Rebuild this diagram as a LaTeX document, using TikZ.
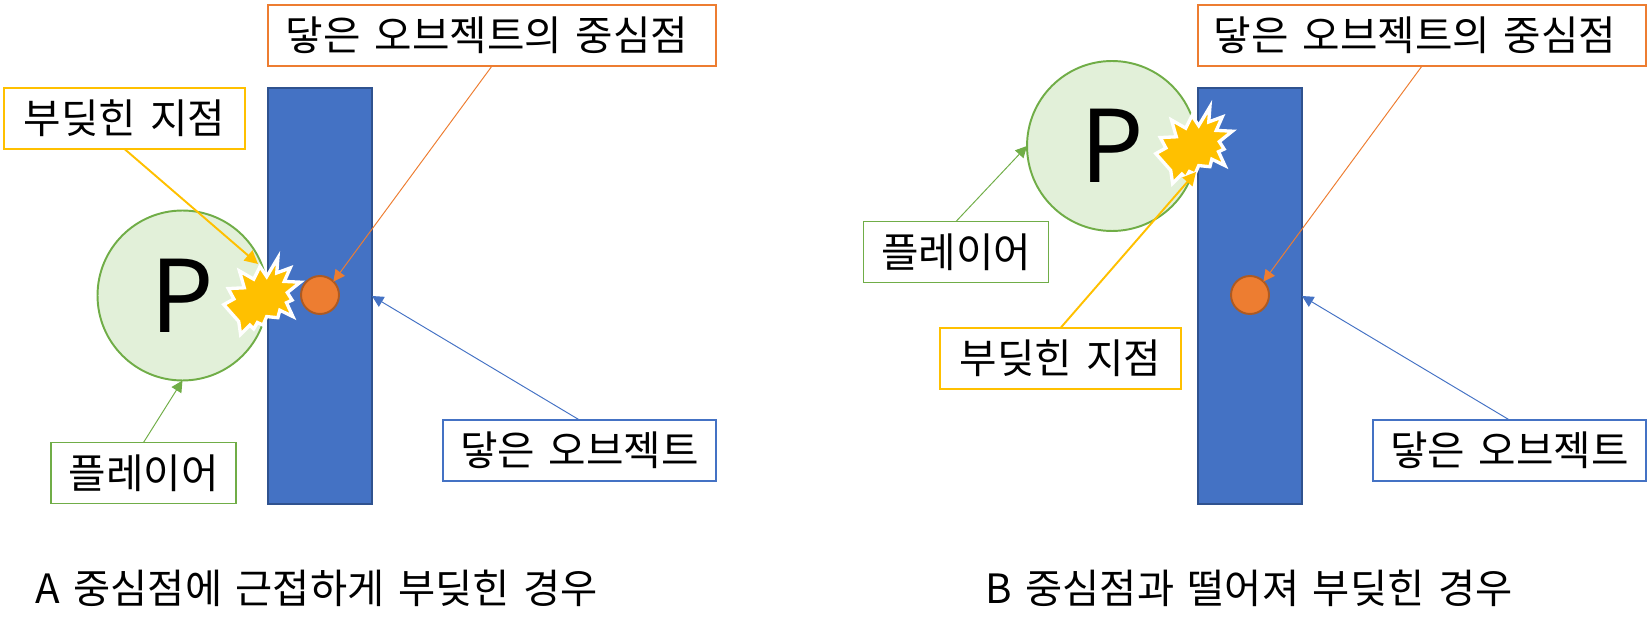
\documentclass[tikz,border=0pt]{standalone}
\usepackage{fontspec}
\setmainfont[WordSpace=1.5]{Noto Sans CJK KR}
\usetikzlibrary{arrows.meta}
\definecolor{wallblue}{HTML}{4472C4}
\definecolor{wallline}{HTML}{2F528F}
\definecolor{hitorange}{HTML}{ED7D31}
\definecolor{dotline}{HTML}{AE5A21}
\definecolor{playergreen}{HTML}{70AD47}
\definecolor{playerfill}{HTML}{E2F0D9}
\definecolor{hitgold}{HTML}{FFC000}

\begin{document}
\begin{tikzpicture}[x=0.02cm, y=-0.02cm, >={Triangle[length=6.5pt, width=6.5pt]},
  lbl/.style={draw, fill=white, line width=1.1pt, font=\fontsize{23.2}{27}\selectfont, minimum height=1.22cm, inner sep=0pt, outer sep=0pt},
  wall/.style={draw=wallline, fill=wallblue, line width=1.1pt, minimum width=2.08cm, minimum height=8.32cm, inner sep=0pt, outer sep=0pt},
  player/.style={circle, draw=playergreen, fill=playerfill, line width=1.1pt, minimum size=3.4cm, inner sep=0pt, outer sep=0pt, font=\fontsize{57}{60}\selectfont},
  dot/.style={circle, draw=dotline, fill=hitorange, line width=1.1pt, minimum size=0.76cm, inner sep=0pt, outer sep=0pt},
  caption/.style={anchor=west, inner sep=0pt, font=\fontsize{23}{27}\selectfont},
  thinlink/.style={->, line width=0.55pt},
  hitlink/.style={-{Triangle[length=7.5pt, width=7.5pt]}, hitgold, line width=1.1pt},
  collision/.pic={
    \draw[white, fill=hitgold, line width=1.9pt, miter limit=6] (-2.7,-29) -- (3.3,-20) -- (13.3,-36.7) -- (12.3,-23.3)
      -- (24.3,-27.7) -- (19,-15.7) -- (33.3,-15) -- (21.7,-5.7) -- (26,1) -- (21,3.3) -- (26.7,15.7) -- (15,10)
      -- (13.3,16.7) -- (3.3,15.7) -- (0,23.3) -- (-5,21) -- (-8.3,26.7) -- (-11.7,23.3) -- (-20,31.7) -- (-21.7,20)
      -- (-35,5) -- (-26,0) -- (-31,-9.3) -- (-16.7,-10) -- (-21,-25) -- (-8.3,-17.7) -- cycle;
  }]

  \useasboundingbox (0,0) rectangle (1652,634);

  % Case A
  \node[player] (playerA) at (182.5,295.5) {P};
  \node[wall] (wallA) at (320,296) {};
  \node[dot] (dotA) at (320,295) {};
  \pic[scale=1.12] at (263,299) {collision};
  \coordinate (hitA) at (258,264);

  \node[lbl, draw=hitorange, minimum width=8.96cm] (centerA) at (492,35.5) {닿은 오브젝트의 중심점\kern0.2cm};
  \node[lbl, draw=hitgold, minimum width=4.82cm] (pointA) at (124.5,118.5) {부딪힌 지점};
  \node[lbl, draw=playergreen, minimum width=3.7cm] (nameA) at (143.5,473) {플레이어};
  \node[lbl, draw=wallblue, minimum width=5.46cm] (objA) at (579.5,450.5) {닿은 오브젝트};
  \node[caption] (capA) at (35,588) {A 중심점에 근접하게 부딪힌 경우};

  \draw[hitlink] (pointA.south) -- (hitA);
  \draw[thinlink, hitorange] (centerA.south) -- (dotA.45);
  \draw[thinlink, playergreen] (nameA.north) -- (playerA.south);
  \draw[thinlink, wallblue] (objA.north) -- (wallA.east);

  % Case B
  \node[player] (playerB) at (1112,146) {P};
  \node[wall] (wallB) at (1250,296) {};
  \node[dot] (dotB) at (1250,295) {};
  \pic[scale=1.12] at (1195,148) {collision};
  \coordinate (hitB) at (1196,172);

  \node[lbl, draw=hitorange, minimum width=8.96cm] (centerB) at (1422,35.5) {닿은 오브젝트의 중심점\kern0.28cm};
  \node[lbl, draw=hitgold, minimum width=4.82cm] (pointB) at (1060.5,358.5) {부딪힌 지점};
  \node[lbl, draw=playergreen, minimum width=3.7cm] (nameB) at (956,252) {플레이어};
  \node[lbl, draw=wallblue, minimum width=5.46cm] (objB) at (1509.5,450.5) {닿은 오브젝트};
  \node[caption] (capB) at (985,588) {B 중심점과 떨어져 부딪힌 경우};

  \draw[hitlink] (pointB.north) -- (hitB);
  \draw[thinlink, hitorange] (centerB.south) -- (dotB.45);
  \draw[thinlink, playergreen] (nameB.north) -- (playerB.west);
  \draw[thinlink, wallblue] (objB.north) -- (wallB.east);

\end{tikzpicture}
\end{document}
